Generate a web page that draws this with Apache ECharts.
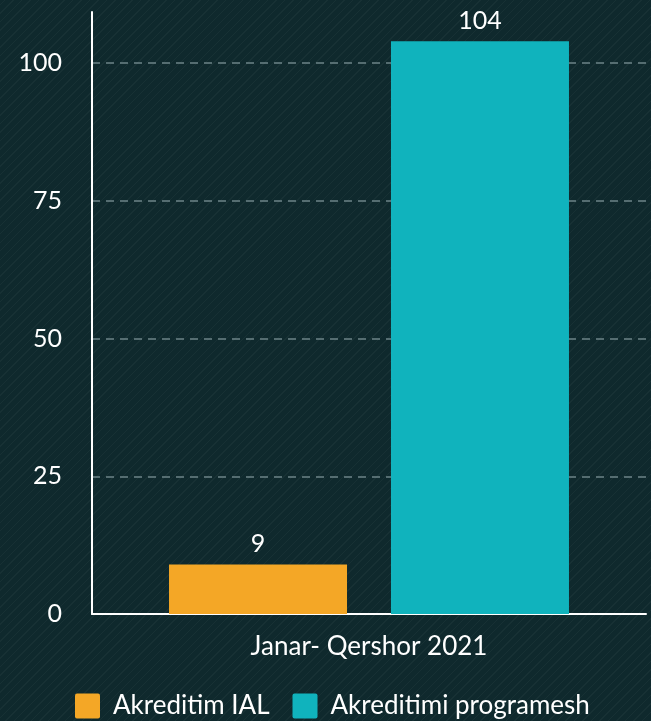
<!DOCTYPE html>
<html>
<head>
<meta charset="utf-8">
<script src="https://cdn.jsdelivr.net/npm/echarts@6/dist/echarts.min.js"></script>
<style>
  html, body { margin: 0; padding: 0; }
  body {
    width: 651px;
    height: 721px;
    background-color: #0f292d;
    background-image: repeating-linear-gradient(-45deg, rgba(255,255,255,0.035) 0px, rgba(255,255,255,0.035) 1px, transparent 1px, transparent 6px);
  }
  #chart { width: 651px; height: 721px; }
</style>
</head>
<body>
<div id="chart"></div>
<script>
const categories = ['Janar- Qershor 2021']
const seriesNames = ['Akreditim IAL', 'Akreditimi programesh']
const ialValues = [9]
const programValues = [104]
const yTicks = [0, 25, 50, 75, 100]

const chart = echarts.init(document.getElementById('chart'))

const labelStyle = {
  show: true,
  position: 'top',
  color: '#ffffff',
  fontSize: 25,
  fontFamily: 'Lato',
  distance: 8
}

const option = {
  backgroundColor: 'transparent',
  textStyle: { fontFamily: 'Lato' },
  grid: {
    left: 92,
    right: 5,
    top: 12,
    bottom: 107
  },
  legend: {
    top: 688,
    left: 70,
    itemWidth: 25,
    itemHeight: 25,
    itemGap: 23,
    icon: 'path://M2,0 L23,0 Q25,0 25,2 L25,23 Q25,25 23,25 L2,25 Q0,25 0,23 L0,2 Q0,0 2,0 Z',
    textStyle: { color: '#ffffff', fontSize: 26, fontFamily: 'Lato', padding: [0, 0, 0, 8] },
    data: seriesNames
  },
  xAxis: {
    type: 'category',
    data: categories,
    axisLine: { lineStyle: { color: '#ffffff', width: 2 } },
    axisTick: { show: false },
    axisLabel: { color: '#ffffff', fontSize: 26, margin: 20 }
  },
  yAxis: {
    type: 'value',
    min: 0,
    max: 109.3,
    interval: 25,
    axisLine: { show: true, lineStyle: { color: '#ffffff', width: 2 } },
    axisTick: { show: false },
    axisLabel: {
      color: '#ffffff',
      fontSize: 25,
      margin: 30,
      showMaxLabel: false,
      formatter: v => (yTicks.includes(v) ? String(v) : '')
    },
    splitLine: {
      showMaxLine: false,
      lineStyle: { color: '#6e8488', type: [8, 6], width: 1.5 }
    }
  },
  series: [
    {
      name: seriesNames[0],
      type: 'bar',
      data: ialValues,
      barWidth: 178,
      barGap: '24.7%',
      itemStyle: { color: '#f4a726' },
      label: labelStyle
    },
    {
      name: seriesNames[1],
      type: 'bar',
      data: programValues,
      barWidth: 178,
      barGap: '24.7%',
      itemStyle: { color: '#10b3bd' },
      label: labelStyle
    }
  ]
}

chart.setOption(option)
</script>
</body>
</html>
